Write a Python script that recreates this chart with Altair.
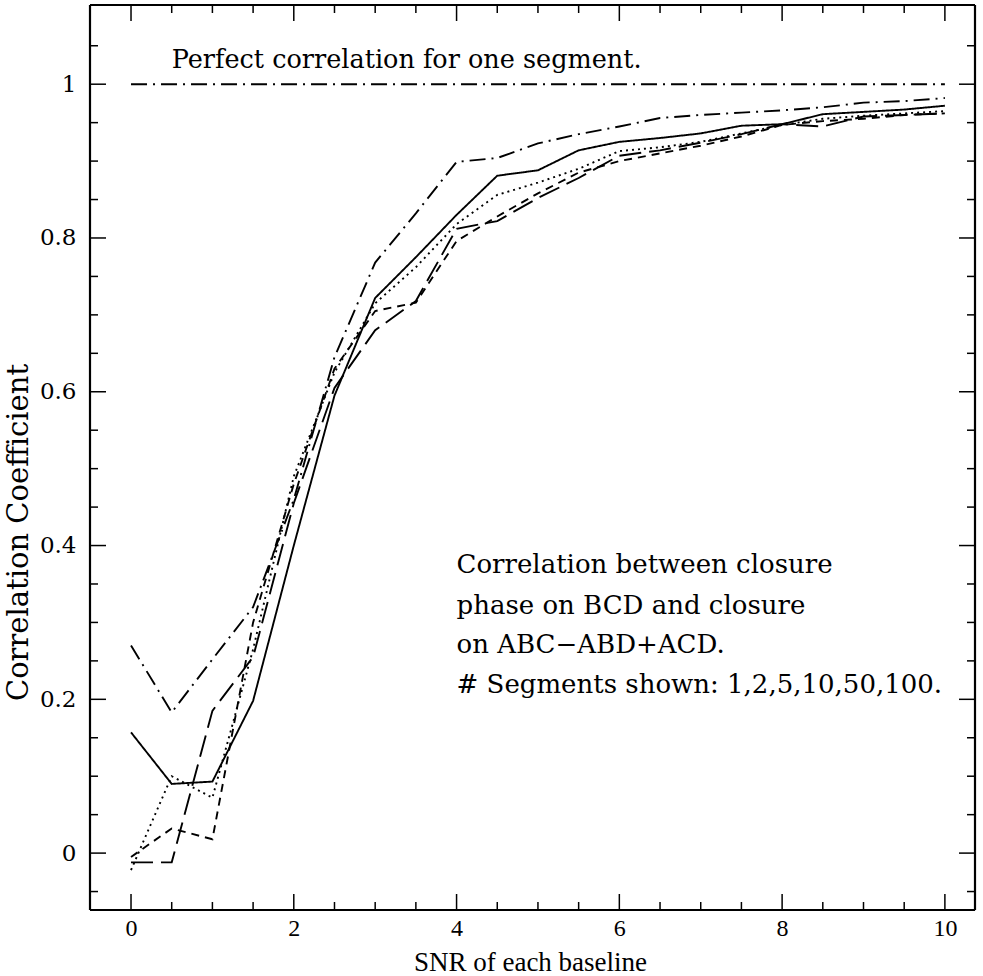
import altair as alt
import pandas as pd

snr = [0, 0.5, 1, 1.5, 2, 2.5, 3, 3.5, 4, 4.5, 5, 5.5, 6, 6.5, 7, 7.5, 8, 8.5, 9, 9.5, 10]
seg1 = [1.0] * 21
seg2 = [0.270, 0.183, 0.252, 0.320, 0.460, 0.645, 0.768, 0.832, 0.899, 0.904, 0.923,
        0.935, 0.945, 0.956, 0.960, 0.963, 0.966, 0.970, 0.976, 0.978, 0.982]
seg5 = [0.157, 0.090, 0.093, 0.198, 0.400, 0.595, 0.722, 0.775, 0.830, 0.881, 0.888,
        0.914, 0.925, 0.930, 0.936, 0.946, 0.948, 0.961, 0.964, 0.967, 0.972]
seg10 = [-0.022, 0.100, 0.072, 0.265, 0.490, 0.625, 0.715, 0.762, 0.818, 0.856, 0.872,
         0.890, 0.913, 0.918, 0.925, 0.936, 0.947, 0.955, 0.959, 0.962, 0.965]
seg50 = [-0.005, 0.032, 0.018, 0.300, 0.480, 0.630, 0.705, 0.716, 0.796, 0.828, 0.858,
         0.885, 0.900, 0.910, 0.920, 0.932, 0.947, 0.952, 0.955, 0.960, 0.962]
seg100 = [-0.012, -0.012, 0.185, 0.255, 0.455, 0.605, 0.680, 0.718, 0.812, 0.822, 0.852,
          0.878, 0.907, 0.914, 0.924, 0.935, 0.948, 0.945, 0.958, 0.960, 0.962]

series_names = ["1", "2", "5", "10", "50", "100"]
series_values = [seg1, seg2, seg5, seg10, seg50, seg100]
series_dash = [[16, 6, 2, 6], [16, 6, 2, 6], [1, 0], [2, 4], [8, 6], [22, 8]]

x_major = [0, 2, 4, 6, 8, 10]
x_minor = [0.5, 1, 1.5, 2.5, 3, 3.5, 4.5, 5, 5.5, 6.5, 7, 7.5, 8.5, 9, 9.5]
y_major = [0, 0.2, 0.4, 0.6, 0.8, 1]
y_minor = [-0.05, 0.05, 0.1, 0.15, 0.25, 0.3, 0.35, 0.45, 0.5, 0.55, 0.65, 0.7, 0.75,
           0.85, 0.9, 0.95, 1.05]

note_lines = ["Correlation between closure", "phase on BCD and closure",
              "on ABC\u2212ABD+ACD.", "# Segments shown: 1,2,5,10,50,100."]
note_y = [0.375, 0.322, 0.270, 0.218]
note_x = [4.0, 4.0, 4.0, 4.0]
top_text = ["Perfect correlation for one segment."]
top_x = [0.5]
top_y = [1.031]

W, H = 885, 905
xs = alt.Scale(domain=[-0.504, 10.37], nice=False, zero=False)
ys = alt.Scale(domain=[-0.074, 1.103], nice=False, zero=False)

rows = []
for name, vals in zip(series_names, series_values):
    for xv, yv in zip(snr, vals):
        rows.append({"snr": xv, "corr": yv, "segments": name})
df = pd.DataFrame(rows)

lines = alt.Chart(df).mark_line(color="black", strokeWidth=1.9, clip=True).encode(
    x=alt.X("snr:Q", scale=xs,
            axis=alt.Axis(values=x_major, format="~g", ticks=False, domain=False, grid=False,
                          labelFont="Liberation Serif", labelFontSize=24, labelColor="black",
                          labelPadding=6, labelFlush=False,
                          title="SNR of each baseline", titleFont="Liberation Serif",
                          titleFontSize=27, titleFontWeight="normal", titleColor="black",
                          titleX=440, titleY=52, titleBaseline="middle", titleAlign="center")),
    y=alt.Y("corr:Q", scale=ys,
            axis=alt.Axis(values=y_major, format="~g", ticks=False, domain=False, grid=False,
                          labelFont="DejaVu Serif", labelFontSize=23, labelColor="black",
                          labelPadding=14, labelFlush=False,
                          title="Correlation Coefficient", titleFont="DejaVu Serif",
                          titleFontSize=29, titleFontWeight="normal", titleColor="black",
                          titleX=-72, titleY=527, titleAngle=270,
                          titleBaseline="middle", titleAlign="center")),
    strokeDash=alt.StrokeDash("segments:N", sort=series_names,
                              scale=alt.Scale(domain=series_names, range=series_dash),
                              legend=None),
    detail="segments:N",
)

def tick_layer(vals, axis, length, side):
    d = pd.DataFrame({"v": vals})
    ch = alt.Chart(d).mark_rule(color="black", strokeWidth=1.5)
    if axis == "x":
        if side == "bottom":
            return ch.encode(x=alt.X("v:Q", scale=xs), y=alt.value(H), y2=alt.value(H - length))
        return ch.encode(x=alt.X("v:Q", scale=xs), y=alt.value(0), y2=alt.value(length))
    if side == "left":
        return ch.encode(y=alt.Y("v:Q", scale=ys), x=alt.value(0), x2=alt.value(length))
    return ch.encode(y=alt.Y("v:Q", scale=ys), x=alt.value(W), x2=alt.value(W - length))

ticks = [
    tick_layer(x_major, "x", 16, "bottom"), tick_layer(x_minor, "x", 8, "bottom"),
    tick_layer(x_major, "x", 16, "top"), tick_layer(x_minor, "x", 8, "top"),
    tick_layer(y_major, "y", 16, "left"), tick_layer(y_minor, "y", 8, "left"),
    tick_layer(y_major, "y", 16, "right"), tick_layer(y_minor, "y", 8, "right"),
]

frame_df = pd.DataFrame({"k": [0]})
frame = [
    alt.Chart(frame_df).mark_rule(color="black", strokeWidth=2.2).encode(
        x=alt.value(0), x2=alt.value(W), y=alt.value(0)),
    alt.Chart(frame_df).mark_rule(color="black", strokeWidth=2.2).encode(
        x=alt.value(0), x2=alt.value(W), y=alt.value(H)),
    alt.Chart(frame_df).mark_rule(color="black", strokeWidth=2.2).encode(
        y=alt.value(0), y2=alt.value(H), x=alt.value(0)),
    alt.Chart(frame_df).mark_rule(color="black", strokeWidth=2.2).encode(
        y=alt.value(0), y2=alt.value(H), x=alt.value(W)),
]

notes = alt.Chart(pd.DataFrame({"t": note_lines, "x": note_x, "y": note_y})).mark_text(
    align="left", baseline="middle", font="DejaVu Serif", fontSize=26, color="black"
).encode(x=alt.X("x:Q", scale=xs), y=alt.Y("y:Q", scale=ys), text="t:N")

top_note = alt.Chart(pd.DataFrame({"t": top_text, "x": top_x, "y": top_y})).mark_text(
    align="left", baseline="middle", font="DejaVu Serif", fontSize=25.5, color="black"
).encode(x=alt.X("x:Q", scale=xs), y=alt.Y("y:Q", scale=ys), text="t:N")

chart = alt.layer(lines, *ticks, *frame, notes, top_note).properties(
    width=W, height=H,
    padding={"left": 90, "top": 5, "right": 8, "bottom": 66},
    autosize=alt.AutoSizeParams(type="none"),
).configure_view(stroke=None).configure(background="white")

chart.save("out.html", embed_options={"renderer": "svg", "actions": False})
